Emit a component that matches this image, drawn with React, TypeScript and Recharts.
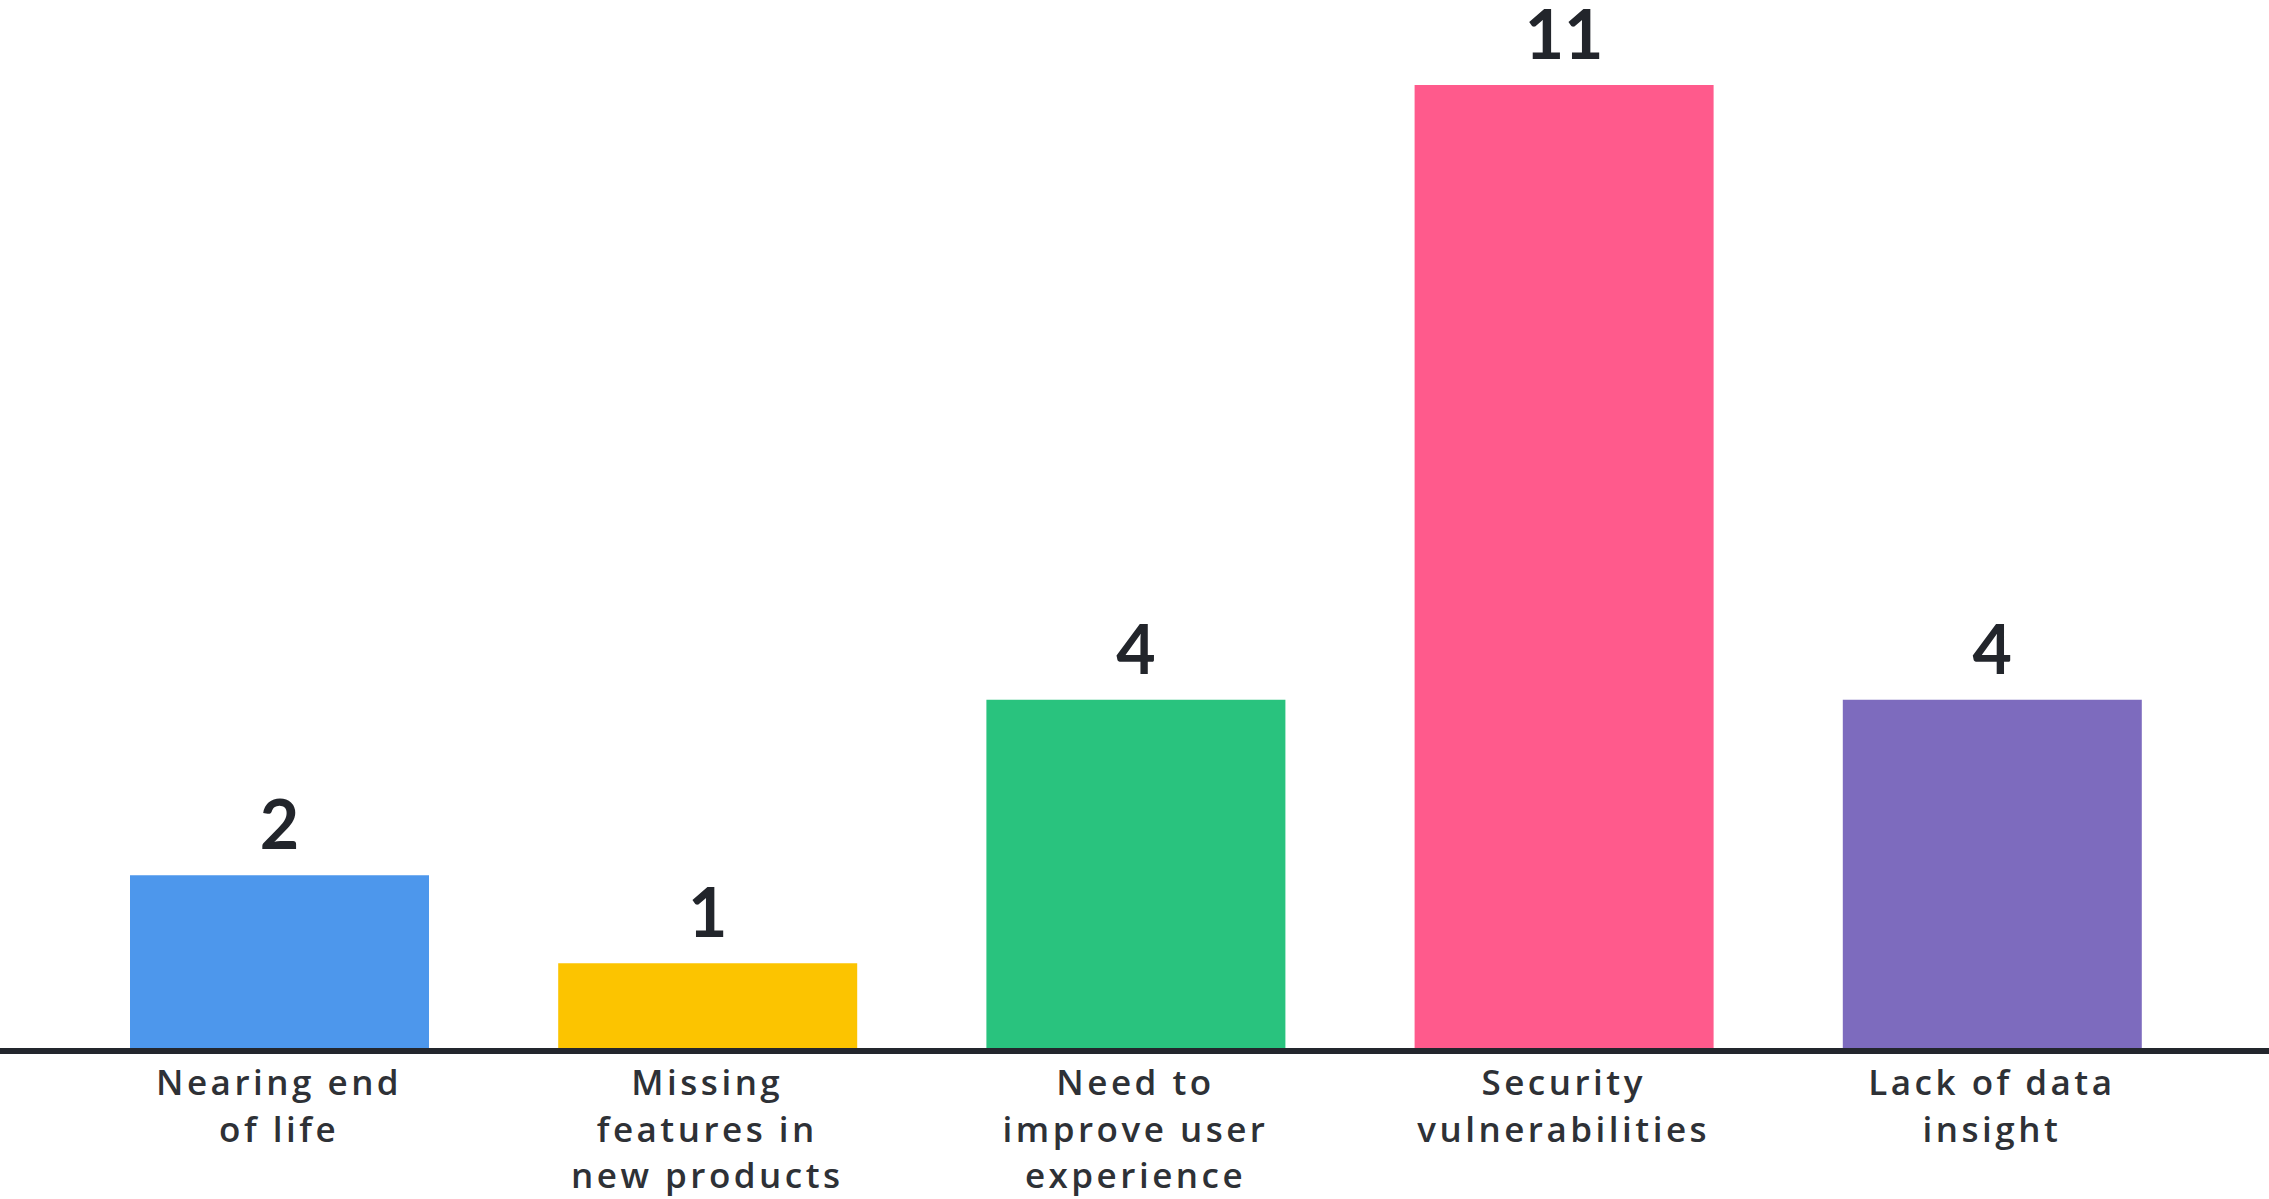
import React from "react";
import { BarChart, Bar, XAxis, YAxis, Cell, LabelList, ReferenceLine } from "recharts";

const categories = [
  "Nearing end of life",
  "Missing features in new products",
  "Need to improve user experience",
  "Security vulnerabilities",
  "Lack of data insight",
];
const categoryLines: string[][] = [
  ["Nearing end", "of life"],
  ["Missing", "features in", "new products"],
  ["Need to", "improve user", "experience"],
  ["Security", "vulnerabilities"],
  ["Lack of data", "insight"],
];
const values = [2, 1, 4, 11, 4];
const colors = ["#4d97ec", "#fcc400", "#29c37e", "#ff5a8c", "#7d6bbe"];

const data = categories.map((c, i) => ({ name: c, value: values[i] }));

const NUM_FONT = "Lato, 'Open Sans', sans-serif";
const TICK_FONT = "'Open Sans', Lato, sans-serif";

const Tick = (props: any) => {
  const { x, y, payload } = props;
  const idx = categories.indexOf(payload.value);
  const lines = idx >= 0 ? categoryLines[idx] : [String(payload.value)];
  return (
    <text
      x={x}
      y={y}
      textAnchor="middle"
      fill="#2e3136"
      fontFamily={TICK_FONT}
      fontSize={35}
      fontWeight={600}
      letterSpacing={3.5}
    >
      {lines.map((l, i) => (
        <tspan key={i} x={x} y={y + 44 + i * 46.5}>
          {l}
        </tspan>
      ))}
    </text>
  );
};

export default function App() {
  return (
    <div style={{ position: "absolute", left: 0, top: 0, background: "#fff" }}>
      <BarChart
        width={2269}
        height={1199}
        data={data}
        margin={{ top: 85, right: 0, bottom: 0, left: 0 }}
      >
        <YAxis hide domain={[0, 11]} />
        <XAxis
          dataKey="name"
          height={148}
          axisLine={false}
          tickLine={false}
          tickSize={0}
          tickMargin={0}
          interval={0}
          padding={{ left: 65, right: 63 }}
          tick={<Tick />}
        />
        <Bar dataKey="value" barSize={299} isAnimationActive={false}>
          {data.map((d, i) => (
            <Cell key={d.name} fill={colors[i]} />
          ))}
          <LabelList
            dataKey="value"
            position="top"
            offset={26}
            fill="#22252b"
            fontSize={68}
            fontWeight={700}
            fontFamily={NUM_FONT}
          />
        </Bar>
        <ReferenceLine y={0} stroke="#23262d" strokeWidth={6} />
      </BarChart>
    </div>
  );
}
